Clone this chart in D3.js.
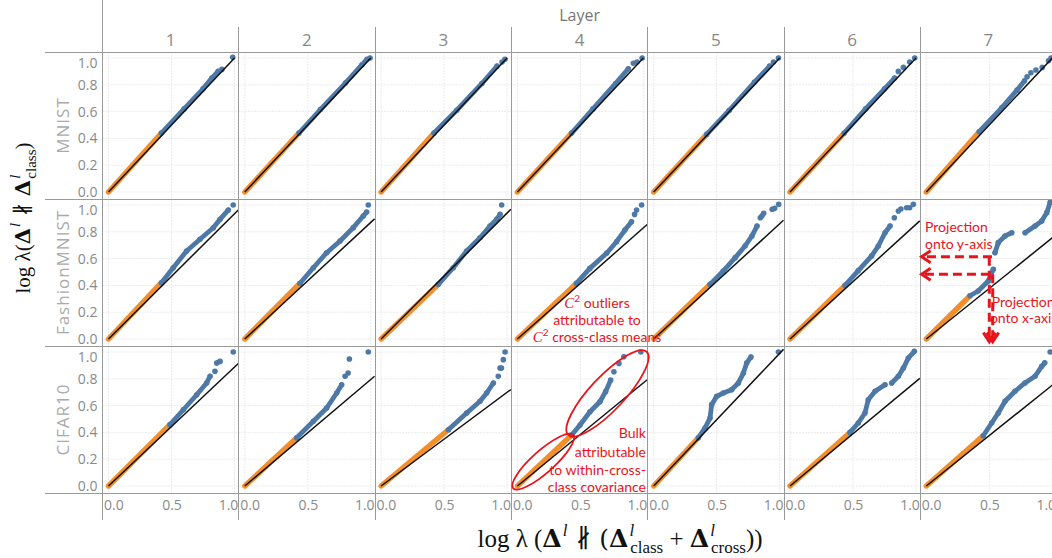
<!DOCTYPE html>
<html><head><meta charset="utf-8">
<script src="https://cdn.jsdelivr.net/npm/d3@7"></script>
<style>body{margin:0;background:#fff}svg{display:block}</style>
</head><body>
<svg id="chart" width="1052" height="558"></svg>
<script>
// ---------- data ----------
const datasets = ["MNIST", "FashionMNIST", "CIFAR10"];
const layers = ["1", "2", "3", "4", "5", "6", "7"];
const xTickValues = [0, 0.5, 1];
const yTickValues = [0, 0.2, 0.4, 0.6, 0.8, 1.0];

// end of the orange bulk (starts at 0,0) per dataset x layer
const orangeEnd = [
  [[0.42,0.44],[0.43,0.44],[0.42,0.44],[0.43,0.44],[0.42,0.43],[0.43,0.44],[0.42,0.45]],
  [[0.42,0.42],[0.438,0.416],[0.454,0.408],[0.468,0.415],[0.447,0.408],[0.437,0.40],[0.347,0.323]],
  [[0.488,0.458],[0.412,0.36],[0.534,0.42],[0.431,0.38],[0.354,0.36],[0.476,0.40],[0.452,0.375]]
];

// blue outlier quantiles: list of runs of points (a run of one point is a lone dot)
const mnistBlue = [
  [[[0.42,0.44],[0.6,0.62],[0.75,0.77],[0.82,0.85],[0.87,0.9]], [[0.9,0.915]], [[0.986,1.005]]],
  [[[0.43,0.44],[0.6,0.615],[0.8,0.815],[0.93,0.95],[0.97,0.99]], [[0.994,1.0]]],
  [[[0.42,0.44],[0.6,0.61],[0.8,0.81],[0.92,0.94]], [[0.96,0.97]], [[0.983,0.99]]],
  [[[0.43,0.44],[0.6,0.62],[0.78,0.81],[0.88,0.92]], [[0.92,0.96]], [[0.95,0.97]], [[0.99,1.0]]],
  [[[0.42,0.43],[0.6,0.61],[0.8,0.82],[0.92,0.94]], [[0.95,0.97]], [[0.99,1.0]]],
  [[[0.43,0.44],[0.6,0.62],[0.75,0.77],[0.83,0.85]], [[0.86,0.9]], [[0.9,0.93]], [[0.95,0.97]], [[0.99,1.0]]],
  [[[0.42,0.45],[0.6,0.63],[0.72,0.76],[0.78,0.83]], [[0.8,0.86]], [[0.83,0.89]], [[0.87,0.91]], [[0.92,0.93]], [[0.97,0.98]], [[0.99,1.0]]]
];
const fashionBlue = [
  [[[0.42,0.42],[0.514,0.532],[0.62,0.657],[0.726,0.744],[0.832,0.83],[0.885,0.893],[0.951,0.963]], [[0.99,1.0]]],
  [[[0.438,0.416],[0.544,0.532],[0.65,0.644],[0.756,0.731],[0.861,0.831],[0.94,0.918],[0.967,0.948]], [[0.98,1.0]]],
  [[[0.454,0.408],[0.573,0.532],[0.679,0.657],[0.785,0.756],[0.864,0.843],[0.917,0.893],[0.944,0.93]], [[0.957,1.0]]],
  [[[0.468,0.415],[0.575,0.527],[0.708,0.64],[0.787,0.726],[0.853,0.813],[0.906,0.875]], [[0.93,0.93]], [[0.946,0.963]], [[0.986,1.0]]],
  [[[0.447,0.408],[0.552,0.507],[0.647,0.607],[0.725,0.694],[0.78,0.769],[0.82,0.843]], [[0.846,0.905]], [[0.86,0.92]], [[0.873,0.938]], [[0.94,0.968]], [[0.96,0.975]], [[0.992,1.005]]],
  [[[0.437,0.40],[0.542,0.51],[0.648,0.62],[0.701,0.694],[0.754,0.793],[0.794,0.843]], [[0.828,0.905]], [[0.86,0.955]], [[0.88,0.97]], [[0.926,0.98]], [[0.95,0.98]], [[0.979,1.005]]],
  [[[0.347,0.323],[0.412,0.358],[0.492,0.433],[0.532,0.52]], [[0.545,0.644],[0.571,0.719],[0.625,0.769],[0.678,0.793]], [[0.784,0.793],[0.863,0.843],[0.916,0.88],[0.956,0.943],[0.983,1.02]]]
];
const cifarBlue = [
  [[[0.488,0.458],[0.594,0.569],[0.7,0.681],[0.779,0.769],[0.806,0.819]], [[0.845,0.856]], [[0.859,0.918],[0.885,0.93]], [[0.99,1.0]]],
  [[[0.412,0.36],[0.544,0.483],[0.65,0.582],[0.729,0.694],[0.769,0.756]], [[0.796,0.819]], [[0.82,0.843]], [[0.83,0.948]], [[0.98,1.0]]],
  [[[0.534,0.42],[0.679,0.545],[0.785,0.632],[0.838,0.694],[0.891,0.769]], [[0.93,0.819]], [[0.944,0.88],[0.955,0.88]], [[0.97,0.943]], [[0.984,1.0]]],
  [[[0.431,0.38],[0.497,0.455],[0.576,0.554],[0.655,0.629],[0.7,0.704],[0.74,0.79]], [[0.766,0.853]], [[0.806,0.915]], [[0.845,0.965]], [[0.98,1.0]]],
  [[[0.354,0.36],[0.407,0.433],[0.447,0.507],[0.46,0.607],[0.5,0.669],[0.553,0.694],[0.619,0.719],[0.672,0.769],[0.712,0.843],[0.738,0.918],[0.772,0.963]], [[0.99,1.0]]],
  [[[0.476,0.40],[0.542,0.47],[0.595,0.545],[0.621,0.644],[0.675,0.707],[0.754,0.756]], [[0.807,0.769],[0.86,0.819],[0.9,0.88],[0.939,0.955],[0.987,1.005]]],
  [[[0.452,0.375],[0.519,0.47],[0.571,0.545],[0.625,0.632],[0.704,0.707],[0.783,0.769],[0.863,0.819],[0.916,0.893],[0.94,0.92]], [[0.983,1.0]]]
];
const blueQuantiles = [mnistBlue, fashionBlue, cifarBlue];

// reference (black) line: slope per panel and x where it ends, per dataset
const lineSlope = [
  [1, 1, 1, 1, 1, 1, 1],
  [0.935, 0.87, 0.94, 0.83, 0.86, 0.856, 0.755],
  [0.887, 0.795, 0.699, 0.77, 0.99, 0.78, 0.753]
];
const lineEndX = [1.0, 1.03, 1.03];

// ---------- layout ----------
const W = 1052, H = 558;
const leftX = 102.5, topY = 52, colW = 136.3, rowH = 147;
const x = d3.scaleLinear().domain([0, 1]).range([6, 132]);
const y = d3.scaleLinear().domain([0, 1]).range([140, 6]);
const gridColor = "#ebebeb", borderColor = "#9a9a9a";
const blue = "#4e79a7", orange = "#f28e2b", red = "#e8141c";

const svg = d3.select("#chart");
const defs = svg.append("defs");
defs.append("clipPath").attr("id", "pclip").append("rect")
  .attr("x", 0).attr("y", 0).attr("width", colW).attr("height", rowH);

const line = d3.line().x(d => x(d[0])).y(d => y(d[1]));

datasets.forEach((ds, r) => {
  layers.forEach((ly, c) => {
    const g = svg.append("g").attr("transform", `translate(${leftX + c * colW},${topY + r * rowH})`);
    const pg = g.append("g").attr("clip-path", "url(#pclip)");
    pg.selectAll(".gy").data(yTickValues).join("line")
      .attr("x1", 0).attr("x2", colW).attr("y1", d => y(d)).attr("y2", d => y(d))
      .attr("stroke", gridColor).attr("stroke-width", 1).attr("stroke-dasharray", "2,1");
    pg.selectAll(".gx").data(xTickValues).join("line")
      .attr("y1", 0).attr("y2", rowH).attr("x1", d => x(d)).attr("x2", d => x(d))
      .attr("stroke", gridColor).attr("stroke-width", 1).attr("stroke-dasharray", "2,1");
    pg.append("path").datum([[0, 0], orangeEnd[r][c]]).attr("d", line)
      .attr("fill", "none").attr("stroke", orange).attr("stroke-width", 5.4)
      .attr("stroke-linecap", "round");
    blueQuantiles[r][c].forEach(run => {
      if (run.length > 1) {
        pg.append("path").datum(run).attr("d", line)
          .attr("fill", "none").attr("stroke", blue).attr("stroke-width", 4.8)
          .attr("stroke-linecap", "round").attr("stroke-linejoin", "round");
      }
      pg.selectAll(null).data(run).join("circle")
        .attr("cx", d => x(d[0])).attr("cy", d => y(d[1])).attr("r", 2.8).attr("fill", blue);
    });
    const xe = lineEndX[r];
    pg.append("path").datum([[0, 0], [xe, xe * lineSlope[r][c]]]).attr("d", line)
      .attr("fill", "none").attr("stroke", "#111").attr("stroke-width", 1.5);
  });
});

// ---------- frame lines ----------
const frame = svg.append("g").attr("stroke", borderColor).attr("stroke-width", 1).attr("shape-rendering", "crispEdges");
frame.append("line").attr("x1", leftX).attr("x2", leftX).attr("y1", 0).attr("y2", 520);
for (let c = 1; c <= layers.length; c++) {
  frame.append("line").attr("x1", leftX + c * colW).attr("x2", leftX + c * colW).attr("y1", 27).attr("y2", 520);
}
for (let r = 0; r <= datasets.length; r++) {
  frame.append("line").attr("x1", 45).attr("x2", W).attr("y1", topY + r * rowH).attr("y2", topY + r * rowH);
}

// ---------- header ----------
const labelFont = "'Open Sans', 'Noto Sans', sans-serif";
svg.append("text").attr("x", leftX + colW * 3.5).attr("y", 15).attr("dy", "0.35em")
  .attr("text-anchor", "middle").attr("font-family", labelFont).attr("font-size", 16)
  .attr("fill", "#777").text("Layer");
svg.selectAll(".lay").data(layers).join("text")
  .attr("x", (d, i) => leftX + colW * (i + 0.5)).attr("y", 40).attr("dy", "0.35em")
  .attr("text-anchor", "middle").attr("font-family", labelFont).attr("font-size", 17)
  .attr("fill", "#888").text(d => d);
svg.selectAll(".ds").data(datasets).join("text")
  .attr("transform", (d, i) => `translate(63,${topY + rowH * (i + 0.5)}) rotate(-90)`)
  .attr("dy", "0.35em").attr("text-anchor", "middle").attr("font-family", labelFont)
  .attr("font-size", 17).attr("letter-spacing", 1).attr("fill", "#aaa").text(d => d);

// ---------- axes ----------
datasets.forEach((ds, r) => {
  const ga = svg.append("g").attr("transform", `translate(${leftX - 5},${topY + r * rowH})`)
    .call(d3.axisLeft(y).tickValues(yTickValues).tickSize(0).tickPadding(0).tickFormat(d3.format(".1f")));
  ga.select(".domain").remove();
  ga.selectAll("text").attr("font-family", labelFont).attr("font-size", 14).attr("fill", "#8a8a8a")
    .attr("dy", d => d === 1 ? "0.65em" : "0.32em");
});
layers.forEach((ly, c) => {
  const ga = svg.append("g").attr("transform", `translate(${leftX + c * colW},${topY + 3 * rowH + 7})`)
    .call(d3.axisBottom(x).tickValues(xTickValues).tickSize(0).tickPadding(0).tickFormat(d3.format(".1f")));
  ga.select(".domain").remove();
  ga.selectAll("text").attr("font-family", labelFont).attr("font-size", 14).attr("fill", "#8a8a8a")
    .attr("text-anchor", d => d === 0 ? "start" : d === 1 ? "end" : "middle")
    .attr("x", d => d === 0 ? 1 - x(0) : d === 1 ? colW - 1 - x(1) : 0);
});

// ---------- axis titles ----------
const mathFont = "'DejaVu Serif', 'Liberation Serif', serif";
const yt = svg.append("text").attr("transform", `translate(30,218) rotate(-90)`)
  .attr("text-anchor", "middle").attr("font-family", "'Liberation Serif', serif").attr("font-size", 21).attr("fill", "#111");
yt.append("tspan").text("log λ(");
yt.append("tspan").attr("font-weight", "bold").attr("font-family", mathFont).text("Δ");
yt.append("tspan").attr("font-size", 15).attr("font-style", "italic").attr("dy", -10).attr("dx", 1).text("l");
yt.append("tspan").attr("dy", 10).attr("font-family", mathFont).text(" ∦ ");
yt.append("tspan").attr("font-weight", "bold").attr("font-family", mathFont).text("Δ");
yt.append("tspan").attr("font-size", 15).attr("font-style", "italic").attr("dy", -10).attr("dx", 1).text("l");
yt.append("tspan").attr("font-size", 15).attr("dy", 16).attr("dx", -4).text("class");
yt.append("tspan").attr("dy", -6).text(")");

const xt = svg.append("text").attr("x", 620).attr("y", 547)
  .attr("text-anchor", "middle").attr("font-family", "'Liberation Serif', serif").attr("font-size", 25).attr("fill", "#111");
xt.append("tspan").text("log λ (");
xt.append("tspan").attr("font-weight", "bold").attr("font-family", mathFont).text("Δ");
xt.append("tspan").attr("font-size", 17).attr("font-style", "italic").attr("dy", -11).attr("dx", 1).text("l");
xt.append("tspan").attr("dy", 11).attr("font-family", mathFont).text(" ∦ (");
xt.append("tspan").attr("font-weight", "bold").attr("font-family", mathFont).text("Δ");
xt.append("tspan").attr("font-size", 17).attr("font-style", "italic").attr("dy", -11).attr("dx", 1).text("l");
xt.append("tspan").attr("font-size", 17).attr("dy", 17).attr("dx", -4).text("class");
xt.append("tspan").attr("dy", -6).text(" + ");
xt.append("tspan").attr("font-weight", "bold").attr("font-family", mathFont).text("Δ");
xt.append("tspan").attr("font-size", 17).attr("font-style", "italic").attr("dy", -11).attr("dx", 1).text("l");
xt.append("tspan").attr("font-size", 17).attr("dy", 17).attr("dx", -4).text("cross");
xt.append("tspan").attr("dy", -6).text("))");

// ---------- annotations (in panel data coordinates) ----------
const annFont = "Lato, 'Open Sans', sans-serif";
function P(r, c, dx, dy) { return [leftX + c * colW + x(dx), topY + r * rowH + y(dy)]; }
const ann = svg.append("g");

const c2Lines = [["C", " outliers"], [null, "attributable to"], ["C", " cross-class means"]];
const c2Y = [0.269, 0.142, 0.015];
c2Lines.forEach((ln, i) => {
  const p = P(1, 3, 0.632, c2Y[i]);
  const t = ann.append("text").attr("x", p[0]).attr("y", p[1]).attr("dy", "0.35em")
    .attr("text-anchor", "middle").attr("font-family", annFont).attr("font-size", 14).attr("fill", red);
  if (ln[0]) {
    t.append("tspan").attr("font-family", "'Liberation Serif', serif").attr("font-style", "italic").attr("font-size", 15).text("C");
    t.append("tspan").attr("font-size", 10).attr("dy", -6).text("2");
    t.append("tspan").attr("dy", 6).text(ln[1]);
  } else t.text(ln[1]);
});

const bulkLines = ["Bulk", "attributable", "to within-cross-", "class covariance"];
const bulkY = [0.393, 0.255, 0.119, -0.005];
bulkLines.forEach((s, i) => {
  const p = P(2, 3, 1.02, bulkY[i]);
  ann.append("text").attr("x", p[0]).attr("y", p[1]).attr("dy", "0.35em")
    .attr("text-anchor", "end").attr("font-family", annFont).attr("font-size", 14).attr("fill", red).text(s);
});

function ellipse(r, c, a, b, thick) {
  const p1 = P(r, c, a[0], a[1]), p2 = P(r, c, b[0], b[1]);
  const cx = (p1[0] + p2[0]) / 2, cy = (p1[1] + p2[1]) / 2;
  const len = Math.hypot(p2[0] - p1[0], p2[1] - p1[1]);
  const ang = Math.atan2(p2[1] - p1[1], p2[0] - p1[0]) * 180 / Math.PI;
  ann.append("ellipse").attr("cx", 0).attr("cy", 0).attr("rx", len / 2).attr("ry", thick / 2)
    .attr("transform", `translate(${cx},${cy}) rotate(${ang})`)
    .attr("fill", "none").attr("stroke", red).attr("stroke-width", 1.8);
}
ellipse(2, 3, [-0.033, -0.017], [0.443, 0.381], 22);
ellipse(2, 3, [0.404, 0.381], [1.026, 1.002], 34);

function hArrow(yv, x1v, x2v) {
  const a = P(1, 6, x1v, yv), b = P(1, 6, x2v, yv);
  ann.append("line").attr("x1", a[0]).attr("y1", a[1]).attr("x2", b[0] + 3).attr("y2", b[1])
    .attr("stroke", red).attr("stroke-width", 3).attr("stroke-dasharray", "9,5");
  ann.append("polyline").attr("points", `${b[0] + 9},${b[1] - 6} ${b[0]},${b[1]} ${b[0] + 9},${b[1] + 6}`)
    .attr("fill", "none").attr("stroke", red).attr("stroke-width", 3);
}
function vArrow(xv, y1v, y2v) {
  const a = P(1, 6, xv, y1v), b = P(1, 6, xv, y2v);
  ann.append("line").attr("x1", a[0]).attr("y1", a[1]).attr("x2", b[0]).attr("y2", b[1] - 3)
    .attr("stroke", red).attr("stroke-width", 3).attr("stroke-dasharray", "9,5");
  ann.append("polyline").attr("points", `${b[0] - 6},${b[1] - 9} ${b[0]},${b[1]} ${b[0] + 6},${b[1] - 9}`)
    .attr("fill", "none").attr("stroke", red).attr("stroke-width", 3);
}
hArrow(0.614, 0.521, -0.037);
hArrow(0.483, 0.505, -0.037);
vArrow(0.5, 0.614, -0.02);
vArrow(0.527, 0.483, -0.02);

[["Projection", -0.01, 0.836], ["onto y-axis", -0.01, 0.709], ["Projection", 0.519, 0.279], ["onto x-axis", 0.505, 0.155]]
  .forEach(([s, xv, yv]) => {
    const p = P(1, 6, xv, yv);
    ann.append("text").attr("x", p[0]).attr("y", p[1]).attr("dy", "0.35em")
      .attr("font-family", annFont).attr("font-size", 14).attr("fill", red).text(s);
  });
</script>
</body></html>
